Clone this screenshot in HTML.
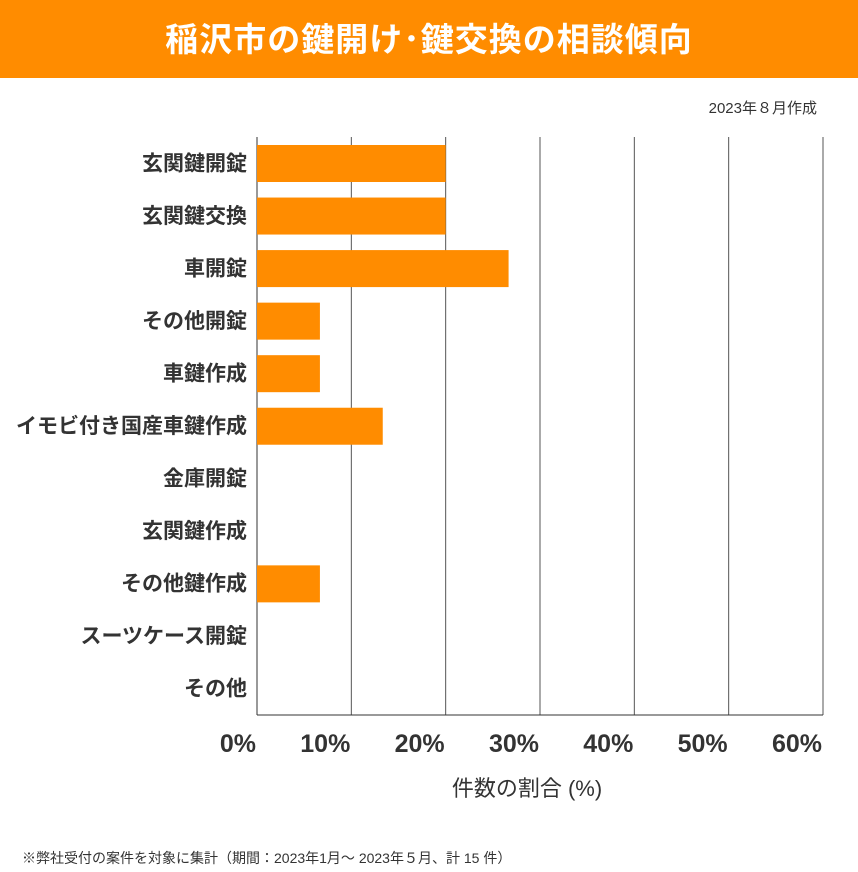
<!DOCTYPE html>
<html><head><meta charset="utf-8">
<style>
html,body{margin:0;padding:0;background:#fff;}
body{width:858px;height:872px;position:relative;overflow:hidden;font-family:"Liberation Sans","Noto Sans CJK JP",sans-serif;color:#333;}
#header{position:absolute;left:0;top:0;width:858px;height:78px;background:#FF8C00;color:#fff;font-size:33px;font-weight:bold;text-align:center;line-height:80px;letter-spacing:1px;}
#made{position:absolute;right:41px;top:97px;font-size:15px;color:#333;}
#foot{position:absolute;left:22px;top:848px;font-size:14px;color:#333;}
</style></head><body>
<div id="header">稲沢市の鍵開け･鍵交換の相談傾向</div>
<div id="made">2023年８月作成</div>
<svg id="chart" width="858" height="872" style="position:absolute;left:0;top:0"></svg>
<div id="foot">※弊社受付の案件を対象に集計（期間：2023年1月～ 2023年５月、計 15 件）</div>
<script>
const categories=["玄関鍵開錠","玄関鍵交換","車開錠","その他開錠","車鍵作成","イモビ付き国産車鍵作成","金庫開錠","玄関鍵作成","その他鍵作成","スーツケース開錠","その他"];
const values=[20,20,26.67,6.67,6.67,13.33,0,0,6.67,0,0];
const ticks=[0,10,20,30,40,50,60];
const NS="http://www.w3.org/2000/svg";
const svg=document.getElementById('chart');
const X0=257,X1=823,Y0=137,Y1=715,MAX=60;
const x=v=>X0+(X1-X0)*v/MAX;
const band=(Y1-Y0)/categories.length;
const y=i=>Y0+band*i;
function mk(t,a){const e=document.createElementNS(NS,t);for(const k in a)e.setAttribute(k,a[k]);svg.appendChild(e);return e;}
ticks.forEach(t=>{
  const l=mk('line',{x1:x(t),x2:x(t),y1:Y0,y2:Y1,stroke:t===0?'#333':'#555','stroke-width':1});
  
  
  const tx=mk('text',{x:x(t)-1,y:752,'text-anchor':'end','font-size':25,'font-weight':'bold',fill:'#333'});
  tx.textContent=t+'%';
  
  
});
const ax=mk('line',{x1:X0,x2:X1,y1:Y1,y2:Y1,stroke:'#333','stroke-width':1});


categories.forEach((c,i)=>{
  const t=mk('text',{x:247,y:y(i)+band/2+7,'text-anchor':'end','font-size':21,'font-weight':'bold',fill:'#333'});
  t.textContent=c;
  
  
  if(values[i]>0){
    const r=mk('rect',{x:X0,y:y(i)+8,width:x(values[i])-X0,height:37,fill:'#FF8C00'});
    
    
  }
});
const at=mk('text',{x:527,y:796,'text-anchor':'middle','font-size':22,fill:'#333'});
at.textContent='件数の割合 (%)';


</script>
</body></html>
